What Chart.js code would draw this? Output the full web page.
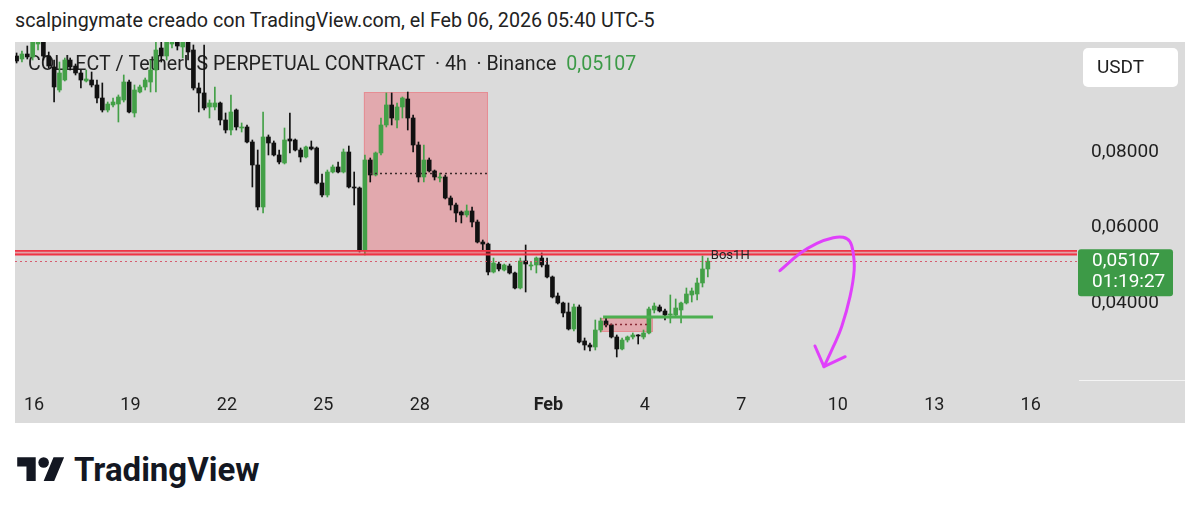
<!DOCTYPE html>
<html>
<head>
<meta charset="utf-8">
<script src="https://cdn.jsdelivr.net/npm/chart.js@4.4.1/dist/chart.umd.min.js"></script>
<style>
  html, body { margin: 0; padding: 0; background: #fff; }
  body { width: 1200px; height: 517px; position: relative; overflow: hidden; font-family: Roboto, 'Noto Sans', sans-serif; }
  #header { position: absolute; left: 15px; top: 11px; font-size: 19.7px; line-height: 20px; color: #222; white-space: nowrap; }
  #wrap { position: absolute; left: 15px; top: 42px; width: 1170px; height: 381px; background: #dbdbdb; }
  #logo { position: absolute; left: 17px; top: 452px; }
  #brand { position: absolute; left: 74px; top: 453px; font-size: 33px; line-height: 33px; font-weight: 700; color: #131722; white-space: nowrap; }
</style>
</head>
<body>
<div id="header">scalpingymate creado con TradingView.com, el Feb 06, 2026 05:40 UTC-5</div>
<div id="wrap"><canvas id="chart" width="1170" height="381"></canvas></div>
<svg id="logo" width="48" height="37" viewBox="0 0 36 28"><path fill="#131722" d="M14 22H7V11H0V4h14v18zM28 22h-8l7.5-18h8L28 22z"/><circle fill="#131722" cx="20" cy="8" r="4"/></svg>
<div id="brand">TradingView</div>
<script>
'use strict';

// 4h candles, time axis in days from Jan 16 00:00 (UTC-5)
const firstCandleDay = -13 / 24;
const candleStep = 4 / 24;

const candleOpen = [
  0.10544, 0.10465, 0.10597, 0.10518, 0.10862, 0.11101, 0.10544, 0.10253, 0.09643, 0.09908,
  0.10438, 0.10279, 0.10094, 0.09882, 0.09908, 0.09776, 0.09431, 0.09113, 0.09246, 0.09272,
  0.09378, 0.09855, 0.09034, 0.09590, 0.09723, 0.09855, 0.10173, 0.10756, 0.10544, 0.10862,
  0.11101, 0.10783, 0.10915, 0.10703, 0.09696, 0.09564, 0.09193, 0.09193, 0.09299, 0.08848,
  0.08583, 0.09113, 0.08636, 0.08663, 0.08265, 0.07656, 0.06543, 0.08398, 0.08239, 0.07921,
  0.07709, 0.08345, 0.08318, 0.08053, 0.07868, 0.08133, 0.08106, 0.07179, 0.06861, 0.07470,
  0.07603, 0.07470, 0.08000, 0.07073, 0.07046, 0.05403, 0.07788, 0.07391, 0.07974, 0.08716,
  0.09246, 0.08848, 0.09193, 0.09405, 0.08901, 0.08186, 0.07338, 0.07788, 0.07497, 0.07311,
  0.07338, 0.06781, 0.06596, 0.06410, 0.06331, 0.06437, 0.06145, 0.05615, 0.05562, 0.04820,
  0.05032, 0.04873, 0.04979, 0.04794, 0.04396, 0.05112, 0.04979, 0.05006, 0.05191, 0.05006,
  0.04688, 0.04184, 0.03999, 0.03760, 0.03310, 0.03893, 0.02992, 0.02886, 0.02833, 0.03283,
  0.03522, 0.03416, 0.03098, 0.02780, 0.03018, 0.03098, 0.03151, 0.03098, 0.03204, 0.03813,
  0.03893, 0.03787, 0.03681, 0.03681, 0.03813, 0.03999, 0.04211, 0.04237, 0.04529, 0.04900
];
const candleHigh = [
  0.10624, 0.10677, 0.10809, 0.11074, 0.11233, 0.11286, 0.10650, 0.10438, 0.10385, 0.10491,
  0.10491, 0.10332, 0.10173, 0.10173, 0.10120, 0.09908, 0.09829, 0.09325, 0.09431, 0.09511,
  0.10041, 0.09908, 0.09776, 0.09776, 0.09961, 0.10438, 0.10968, 0.11021, 0.11074, 0.11286,
  0.11366, 0.11021, 0.11074, 0.10836, 0.09829, 0.10836, 0.09378, 0.09723, 0.09325, 0.09034,
  0.09511, 0.09140, 0.08769, 0.08716, 0.08318, 0.08053, 0.09060, 0.08451, 0.08292, 0.08053,
  0.08636, 0.09034, 0.08345, 0.08106, 0.08159, 0.08292, 0.08133, 0.07417, 0.07523, 0.07656,
  0.07735, 0.08080, 0.08159, 0.07470, 0.07073, 0.07921, 0.07841, 0.08000, 0.08901, 0.09564,
  0.09564, 0.09299, 0.09458, 0.09590, 0.08981, 0.08265, 0.08186, 0.07841, 0.07523, 0.07444,
  0.07391, 0.06834, 0.06649, 0.06437, 0.06596, 0.06543, 0.06198, 0.05668, 0.05589, 0.05191,
  0.05085, 0.05032, 0.05032, 0.04820, 0.05191, 0.05536, 0.05085, 0.05218, 0.05324, 0.05191,
  0.04714, 0.04264, 0.04025, 0.03999, 0.03972, 0.03946, 0.03071, 0.02939, 0.03548, 0.03601,
  0.03628, 0.03442, 0.03151, 0.03071, 0.03124, 0.03204, 0.03160, 0.03283, 0.03893, 0.03999,
  0.03946, 0.03840, 0.04211, 0.04105, 0.04025, 0.04396, 0.04396, 0.04661, 0.05244, 0.05191
];
const candleLow = [
  0.10359, 0.10385, 0.10465, 0.10438, 0.10703, 0.10438, 0.10226, 0.09325, 0.09590, 0.09882,
  0.10173, 0.10041, 0.09696, 0.09855, 0.09723, 0.09299, 0.09060, 0.09060, 0.09193, 0.08795,
  0.09325, 0.09034, 0.08928, 0.09564, 0.09643, 0.09590, 0.09590, 0.10385, 0.10438, 0.10756,
  0.10703, 0.10491, 0.10438, 0.09643, 0.09060, 0.09113, 0.08901, 0.09113, 0.08716, 0.08504,
  0.08451, 0.08583, 0.08530, 0.08239, 0.07073, 0.06463, 0.06384, 0.07921, 0.07894, 0.07682,
  0.07682, 0.07974, 0.08027, 0.07735, 0.07841, 0.08053, 0.07152, 0.06808, 0.06808, 0.07444,
  0.07444, 0.07444, 0.07046, 0.06596, 0.05350, 0.05271, 0.07205, 0.07364, 0.07921, 0.08663,
  0.08716, 0.08636, 0.08901, 0.08583, 0.08000, 0.07205, 0.07205, 0.07470, 0.07258, 0.07205,
  0.06755, 0.06463, 0.06145, 0.06119, 0.06278, 0.06013, 0.05589, 0.05403, 0.04741, 0.04794,
  0.04847, 0.04847, 0.04767, 0.04370, 0.04370, 0.04290, 0.04873, 0.04794, 0.04953, 0.04661,
  0.04131, 0.03972, 0.03628, 0.03283, 0.03257, 0.02939, 0.02753, 0.02727, 0.02753, 0.03230,
  0.03363, 0.03071, 0.02568, 0.02753, 0.02965, 0.03045, 0.02912, 0.03045, 0.03177, 0.03734,
  0.03760, 0.03548, 0.03469, 0.03654, 0.03469, 0.03972, 0.04025, 0.04078, 0.04423, 0.04688
];
const candleClose = [
  0.10412, 0.10597, 0.10518, 0.10915, 0.11127, 0.10544, 0.10279, 0.09723, 0.10094, 0.10438,
  0.10253, 0.10094, 0.09908, 0.09935, 0.09776, 0.09431, 0.09113, 0.09272, 0.09325, 0.09458,
  0.09855, 0.09060, 0.09643, 0.09723, 0.09908, 0.10173, 0.10703, 0.10544, 0.10915, 0.11127,
  0.10809, 0.10915, 0.10650, 0.09696, 0.09564, 0.09166, 0.09299, 0.09299, 0.08848, 0.08583,
  0.09060, 0.08663, 0.08663, 0.08265, 0.07656, 0.06543, 0.08398, 0.08239, 0.07921, 0.07735,
  0.08318, 0.08292, 0.08053, 0.07868, 0.08133, 0.08080, 0.07179, 0.06861, 0.07470, 0.07603,
  0.07470, 0.08000, 0.07073, 0.07046, 0.05403, 0.07788, 0.07391, 0.07974, 0.08716, 0.09246,
  0.08901, 0.09193, 0.09431, 0.08901, 0.08186, 0.07338, 0.07788, 0.07497, 0.07338, 0.07338,
  0.06781, 0.06596, 0.06384, 0.06331, 0.06437, 0.06145, 0.05615, 0.05562, 0.04820, 0.05059,
  0.04900, 0.05006, 0.04794, 0.04396, 0.05112, 0.05032, 0.05006, 0.05191, 0.05006, 0.04688,
  0.04158, 0.03999, 0.03734, 0.03310, 0.03893, 0.02965, 0.02886, 0.02833, 0.03283, 0.03522,
  0.03416, 0.03098, 0.02780, 0.03018, 0.03098, 0.03151, 0.03124, 0.03204, 0.03840, 0.03919,
  0.03787, 0.03681, 0.03707, 0.03866, 0.03999, 0.04237, 0.04317, 0.04529, 0.04900, 0.05107
];

const tickDays = [0, 3, 6, 9, 12, 16, 19, 22, 25, 28, 31];
const tickLabels = ['16', '19', '22', '25', '28', 'Feb', '4', '7', '10', '13', '16'];
const priceTicks = [0.04, 0.06, 0.08];

// drawings: [startDay, endDay, lowPrice, highPrice]
const supplyBox = [10.26, 14.12, 0.05271, 0.0959];
const smallBox = [17.64, 19.25, 0.0323, 0.03601];
const bosBand = [0.05284, 0.05382];
// dotted mid lines: [startDay, endDay, price]
const supplyMid = [10.45, 14.12, 0.07444];
const smallMid = [17.76, 19.16, 0.03442];
const greenLevel = [17.70, 21.12, 0.03628];

// hand drawn arrow
const arrowDays = [23.20, 23.83, 24.35, 24.86, 25.17, 25.38, 25.48, 25.51, 25.38, 25.12, 24.86, 24.57];
const arrowPrices = [0.04855, 0.05316, 0.05581, 0.05729, 0.05740, 0.05623, 0.05316, 0.04873, 0.04166, 0.03370, 0.02840, 0.02310];
const headDays = [24.29, 24.57, 25.23];
const headPrices = [0.02859, 0.02310, 0.02575];

const GREEN = '#43a047';
const BLACK = '#111111';
const RED = '#ee3445';
const fmt = (v) => v.toFixed(5).replace('.', ',');

const candleDays = candleOpen.map((_, i) => firstCandleDay + i * candleStep);
const lastIdx = candleClose.length - 1;
const lastPrice = candleClose[lastIdx];
const candleColor = (i) => (candleClose[i] >= candleOpen[i] ? GREEN : BLACK);

const overlay = {
  id: 'overlay',
  beforeDatasetsDraw(chart) {
    const { ctx, chartArea: a, scales: { x, y } } = chart;
    ctx.save();
    ctx.beginPath();
    ctx.rect(a.left, a.top, a.width, a.height);
    ctx.clip();

    // legend line
    ctx.font = '19.6px Roboto';
    ctx.textBaseline = 'middle';
    ctx.fillStyle = '#222';
    const title = 'COLLECT / TetherUS PERPETUAL CONTRACT  · 4h  · Binance';
    ctx.fillText(title, a.left + 13, a.top + 23);
    ctx.fillStyle = '#3c9a47';
    ctx.fillText(fmt(lastPrice), a.left + 13 + ctx.measureText(title).width + 10, a.top + 23);

    // zones
    [supplyBox, smallBox].forEach((b) => {
      const x0 = x.getPixelForValue(b[0]), x1 = x.getPixelForValue(b[1]);
      const y0 = y.getPixelForValue(b[3]), y1 = y.getPixelForValue(b[2]);
      ctx.fillStyle = 'rgba(242,54,69,0.3)';
      ctx.fillRect(x0, y0, x1 - x0, y1 - y0);
      ctx.strokeStyle = 'rgba(242,54,69,0.25)';
      ctx.lineWidth = 1;
      ctx.strokeRect(x0 + 0.5, y0 + 0.5, x1 - x0 - 1, y1 - y0 - 1);
    });
    ctx.restore();
  },
  afterDatasetDraw(chart, args) {
    if (args.index !== 1) return;
    const { ctx, chartArea: a, scales: { x, y } } = chart;
    ctx.save();
    ctx.beginPath();
    ctx.rect(a.left, a.top, a.width, a.height);
    ctx.clip();

    // last price line
    const py = y.getPixelForValue(lastPrice);
    ctx.setLineDash([2, 3]);
    ctx.strokeStyle = 'rgba(214,80,100,0.9)';
    ctx.lineWidth = 1;
    ctx.beginPath();
    ctx.moveTo(a.left, Math.round(py) + 0.5);
    ctx.lineTo(a.right, Math.round(py) + 0.5);
    ctx.stroke();

    // dotted mid lines
    [[supplyMid, '#3a2a2a'], [smallMid, '#8a2a36']].forEach(([m, c]) => {
      const yy = Math.round(y.getPixelForValue(m[2])) + 0.5;
      ctx.strokeStyle = c;
      ctx.lineWidth = 1.5;
      ctx.beginPath();
      ctx.moveTo(x.getPixelForValue(m[0]), yy);
      ctx.lineTo(x.getPixelForValue(m[1]), yy);
      ctx.stroke();
    });
    ctx.setLineDash([]);

    // BOS band across the chart
    const b0 = y.getPixelForValue(bosBand[1]), b1 = y.getPixelForValue(bosBand[0]);
    ctx.fillStyle = 'rgba(242,54,69,0.35)';
    ctx.fillRect(a.left, b0, a.width, b1 - b0);
    ctx.strokeStyle = RED;
    ctx.lineWidth = 1.8;
    ctx.beginPath();
    ctx.moveTo(a.left, b0); ctx.lineTo(a.right, b0);
    ctx.moveTo(a.left, b1); ctx.lineTo(a.right, b1);
    ctx.stroke();
    ctx.font = '13px Roboto';
    ctx.fillStyle = '#222';
    ctx.textBaseline = 'middle';
    ctx.fillText('Bos1H', x.getPixelForValue(candleDays[lastIdx]) + 3, (b0 + b1) / 2 + 3);

    // green level
    const gy = y.getPixelForValue(greenLevel[2]);
    ctx.strokeStyle = '#4caf50';
    ctx.lineWidth = 3;
    ctx.beginPath();
    ctx.moveTo(x.getPixelForValue(greenLevel[0]), gy);
    ctx.lineTo(x.getPixelForValue(greenLevel[1]), gy);
    ctx.stroke();
    ctx.restore();
  },
  afterDraw(chart) {
    const { ctx, chartArea: a, scales: { y } } = chart;
    ctx.save();
    // corner separator
    ctx.fillStyle = '#f4f4f4';
    ctx.fillRect(a.right + 2, a.bottom, chart.width - a.right - 2, 1);

    // currency box
    ctx.fillStyle = '#fff';
    ctx.beginPath();
    ctx.roundRect(a.right + 6, 6, 95, 39, 5);
    ctx.fill();
    ctx.font = '19px Roboto';
    ctx.fillStyle = '#1f1f1f';
    ctx.textBaseline = 'middle';
    ctx.fillText('USDT', a.right + 20, 26);

    // last price label
    const py = y.getPixelForValue(lastPrice);
    ctx.fillStyle = '#3d9a47';
    ctx.beginPath();
    ctx.roundRect(a.right + 1, py - 12, 95, 47, 3);
    ctx.fill();
    ctx.fillStyle = '#fff';
    ctx.fillText(fmt(lastPrice), a.right + 15, py + 0.5);
    ctx.fillText('01:19:27', a.right + 15, py + 21);
    ctx.restore();
  }
};

new Chart(document.getElementById('chart'), {
  type: 'bar',
  data: {
    datasets: [
      {
        label: 'wicks',
        data: candleDays.map((d, i) => ({ x: d, y: [candleLow[i], candleHigh[i]] })),
        backgroundColor: (c) => candleColor(c.dataIndex),
        barThickness: 1,
        grouped: false,
        minBarLength: 1,
        order: 3
      },
      {
        label: 'bodies',
        data: candleDays.map((d, i) => ({ x: d, y: [candleOpen[i], candleClose[i]] })),
        backgroundColor: (c) => candleColor(c.dataIndex),
        barThickness: 4,
        grouped: false,
        minBarLength: 1,
        order: 2
      },
      {
        type: 'line',
        label: 'arrow',
        data: arrowDays.map((d, i) => ({ x: d, y: arrowPrices[i] })),
        borderColor: '#e040fb',
        borderWidth: 3,
        borderCapStyle: 'round',
        borderJoinStyle: 'round',
        pointRadius: 0,
        tension: 0.4,
        fill: false,
        order: 1
      },
      {
        type: 'line',
        label: 'arrow head',
        data: headDays.map((d, i) => ({ x: d, y: headPrices[i] })),
        borderColor: '#e040fb',
        borderWidth: 3,
        borderCapStyle: 'round',
        borderJoinStyle: 'round',
        pointRadius: 0,
        tension: 0,
        fill: false,
        order: 0
      }
    ]
  },
  options: {
    responsive: false,
    animation: false,
    events: [],
    layout: { padding: 0 },
    plugins: { legend: { display: false }, tooltip: { enabled: false } },
    scales: {
      x: {
        type: 'linear',
        min: -0.591,
        max: 32.44,
        offset: false,
        grid: { display: false, drawTicks: false },
        border: { display: false },
        afterBuildTicks: (s) => { s.ticks = tickDays.map((v) => ({ value: v })); },
        afterFit: (s) => { s.height = 43; s.paddingLeft = 0; s.paddingRight = 0; },
        ticks: {
          padding: 15,
          color: '#1f1f1f',
          maxRotation: 0,
          autoSkip: false,
          font: (c) => ({ family: 'Roboto', size: 18, weight: tickLabels[c.index] === 'Feb' ? '700' : '400' }),
          callback: (v, i) => tickLabels[i]
        }
      },
      y: {
        position: 'right',
        min: 0.01958,
        max: 0.10915,
        beginAtZero: false,
        grid: { display: false, drawTicks: false },
        border: { display: false },
        afterBuildTicks: (s) => { s.ticks = priceTicks.map((v) => ({ value: v })); },
        afterFit: (s) => { s.width = 108; s.paddingTop = 0; s.paddingBottom = 0; },
        ticks: {
          padding: 14,
          color: '#1f1f1f',
          font: { family: 'Roboto', size: 19 },
          callback: (v) => fmt(v)
        }
      }
    }
  },
  plugins: [overlay]
});
</script>
</body>
</html>
